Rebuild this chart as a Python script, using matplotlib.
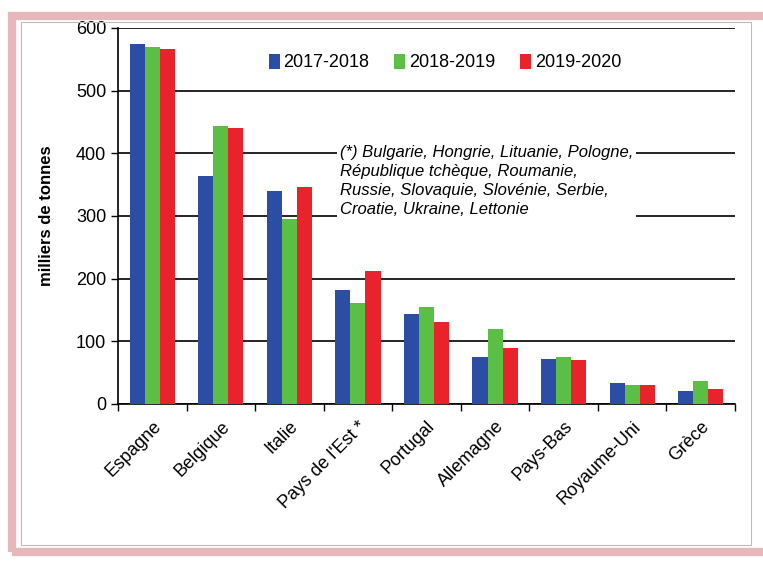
import numpy as np
import matplotlib
matplotlib.use('Agg')
import matplotlib.pyplot as plt
from matplotlib.patches import Rectangle

# ─── données ───────────────────────────────────────────────
pays = ['Espagne', 'Belgique', 'Italie', "Pays de l'Est *", 'Portugal',
        'Allemagne', 'Pays-Bas', 'Royaume-Uni', 'Grèce']
saisons = ['2017-2018', '2018-2019', '2019-2020']
v_2017_2018 = [574, 364, 340, 182, 144, 75, 72, 34, 21]
v_2018_2019 = [569, 444, 295, 161, 155, 119, 75, 30, 37]
v_2019_2020 = [567, 440, 346, 212, 131, 89, 70, 30, 24]
couleurs = ['#2B4EA4', '#5CBF45', '#E8232B']
note = ("(*) Bulgarie, Hongrie, Lituanie, Pologne,\n"
        "République tchèque, Roumanie,\n"
        "Russie, Slovaquie, Slovénie, Serbie,\n"
        "Croatie, Ukraine, Lettonie")

plt.rcParams['font.family'] = ['Liberation Sans', 'DejaVu Sans']

fig = plt.figure(figsize=(7.63, 5.65), dpi=100)
fig.patch.set_facecolor('white')

# cadre rose + filet gris
fig.patches.append(Rectangle((12 / 763, 13 / 565), 760 / 763, 536 / 565,
                             transform=fig.transFigure, fill=False,
                             edgecolor='#E6B8BC', linewidth=6, zorder=0))
fig.patches.append(Rectangle((21 / 763, 20 / 565), 730 / 763, 523 / 565,
                             transform=fig.transFigure, fill=False,
                             edgecolor='#BBBBBB', linewidth=0.8, zorder=0))

ax = fig.add_axes([118 / 763, 1 - 404 / 565, 617 / 763, 376 / 565])

x = np.arange(len(pays))
w = 0.22
for i, (vals, lab) in enumerate(zip([v_2017_2018, v_2018_2019, v_2019_2020], saisons)):
    ax.bar(x + (i - 1) * w, vals, width=w, color=couleurs[i], label=lab, zorder=3)

ax.set_xlim(-0.5, len(pays) - 0.5)
ax.set_ylim(0, 600)
ax.set_yticks(range(0, 601, 100))
ax.yaxis.grid(True, color='black', linewidth=1.2, zorder=0)
ax.tick_params(axis='y', labelsize=13, length=5, direction='out', width=1)
ax.set_xticks(x)
ax.set_xticklabels(pays, rotation=45, ha='right', rotation_mode='anchor', fontsize=13)
ax.set_xticks(np.arange(-0.5, len(pays)), minor=True)
ax.tick_params(axis='x', which='major', length=0, pad=10)
ax.tick_params(axis='x', which='minor', length=5, width=1)
for s in ['top', 'right']:
    ax.spines[s].set_visible(False)
for s in ['left', 'bottom']:
    ax.spines[s].set_linewidth(1.2)
ax.set_ylabel('milliers de tonnes', fontsize=12, fontweight='bold', labelpad=16)

ax.legend(loc='upper center', bbox_to_anchor=(0.53, 0.975), ncol=3, frameon=False,
          fontsize=13, handlelength=0.6, handleheight=0.9, handletextpad=0.2,
          columnspacing=1.4)

ax.text(0.36, 0.69, note, transform=ax.transAxes, fontsize=12, style='italic',
        va='top', ha='left', linespacing=1.35, zorder=4,
        bbox=dict(facecolor='white', edgecolor='none', pad=2))

fig.savefig('out.png', dpi=100)
